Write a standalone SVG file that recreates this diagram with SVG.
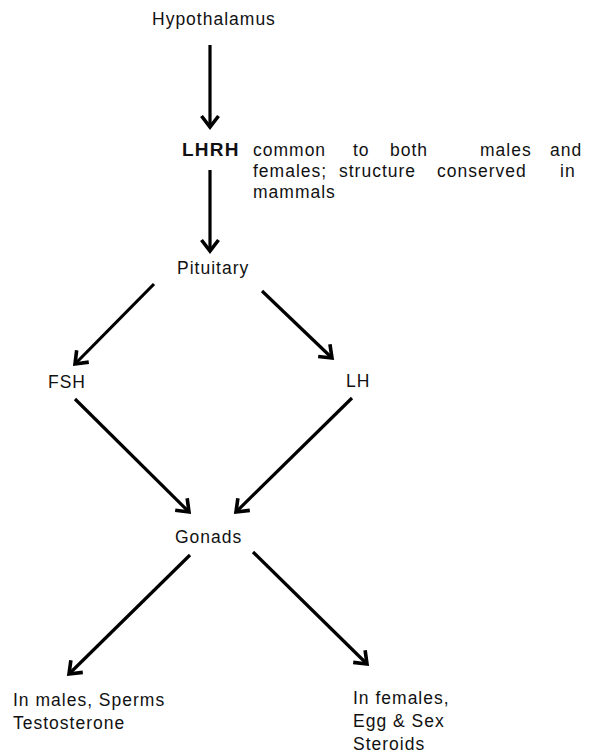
<svg xmlns="http://www.w3.org/2000/svg" width="594" height="753" viewBox="0 0 594 753">
<style>
text{font-family:"Liberation Sans",Arial,sans-serif;font-size:17.5px;letter-spacing:1px;fill:#111}
.b{font-weight:bold;font-size:19px;letter-spacing:1.2px}
.c line{stroke:#000;stroke-width:3.2;marker-end:url(#ah)}
</style>
<defs>
<marker id="ah" markerUnits="userSpaceOnUse" viewBox="-14 -10 16 20" refX="0" refY="0" markerWidth="16" markerHeight="20" orient="auto" overflow="visible">
<path d="M-11,-8.5 L0,0 L-11,8.5" fill="none" stroke="#000" stroke-width="3.6" stroke-linejoin="miter"/>
</marker>
</defs>
<rect width="594" height="753" fill="#fff"/>
<g id="hypothalamus"><text x="152" y="25">Hypothalamus</text></g>
<g id="lhrh">
<text class="b" x="182" y="156">LHRH</text>
<text y="156"><tspan x="253">common</tspan><tspan x="353">to</tspan><tspan x="390">both</tspan><tspan x="480">males</tspan><tspan x="550">and</tspan></text>
<text y="177"><tspan x="253">females;</tspan><tspan x="339">structure</tspan><tspan x="437">conserved</tspan><tspan x="560">in</tspan></text>
<text x="253" y="198">mammals</text>
</g>
<g id="pituitary"><text x="177" y="274">Pituitary</text></g>
<g id="fsh"><text x="48" y="388">FSH</text></g>
<g id="lh"><text x="346" y="387">LH</text></g>
<g id="gonads"><text x="175" y="543">Gonads</text></g>
<g id="males"><text x="13" y="706">In males, Sperms</text><text x="13" y="729">Testosterone</text></g>
<g id="females"><text x="353" y="704">In females,</text><text x="353" y="727">Egg &amp; Sex</text><text x="353" y="750">Steroids</text></g>
<g id="connectors" class="c">
<line x1="210" y1="45" x2="210" y2="127"/>
<line x1="210" y1="170" x2="210" y2="251"/>
<line x1="154" y1="284" x2="75" y2="364"/>
<line x1="262" y1="291" x2="332" y2="358"/>
<line x1="75" y1="399" x2="189" y2="512"/>
<line x1="352" y1="398" x2="236" y2="512"/>
<line x1="190" y1="555" x2="69" y2="674"/>
<line x1="253" y1="552" x2="367" y2="664"/>
</g>
</svg>
